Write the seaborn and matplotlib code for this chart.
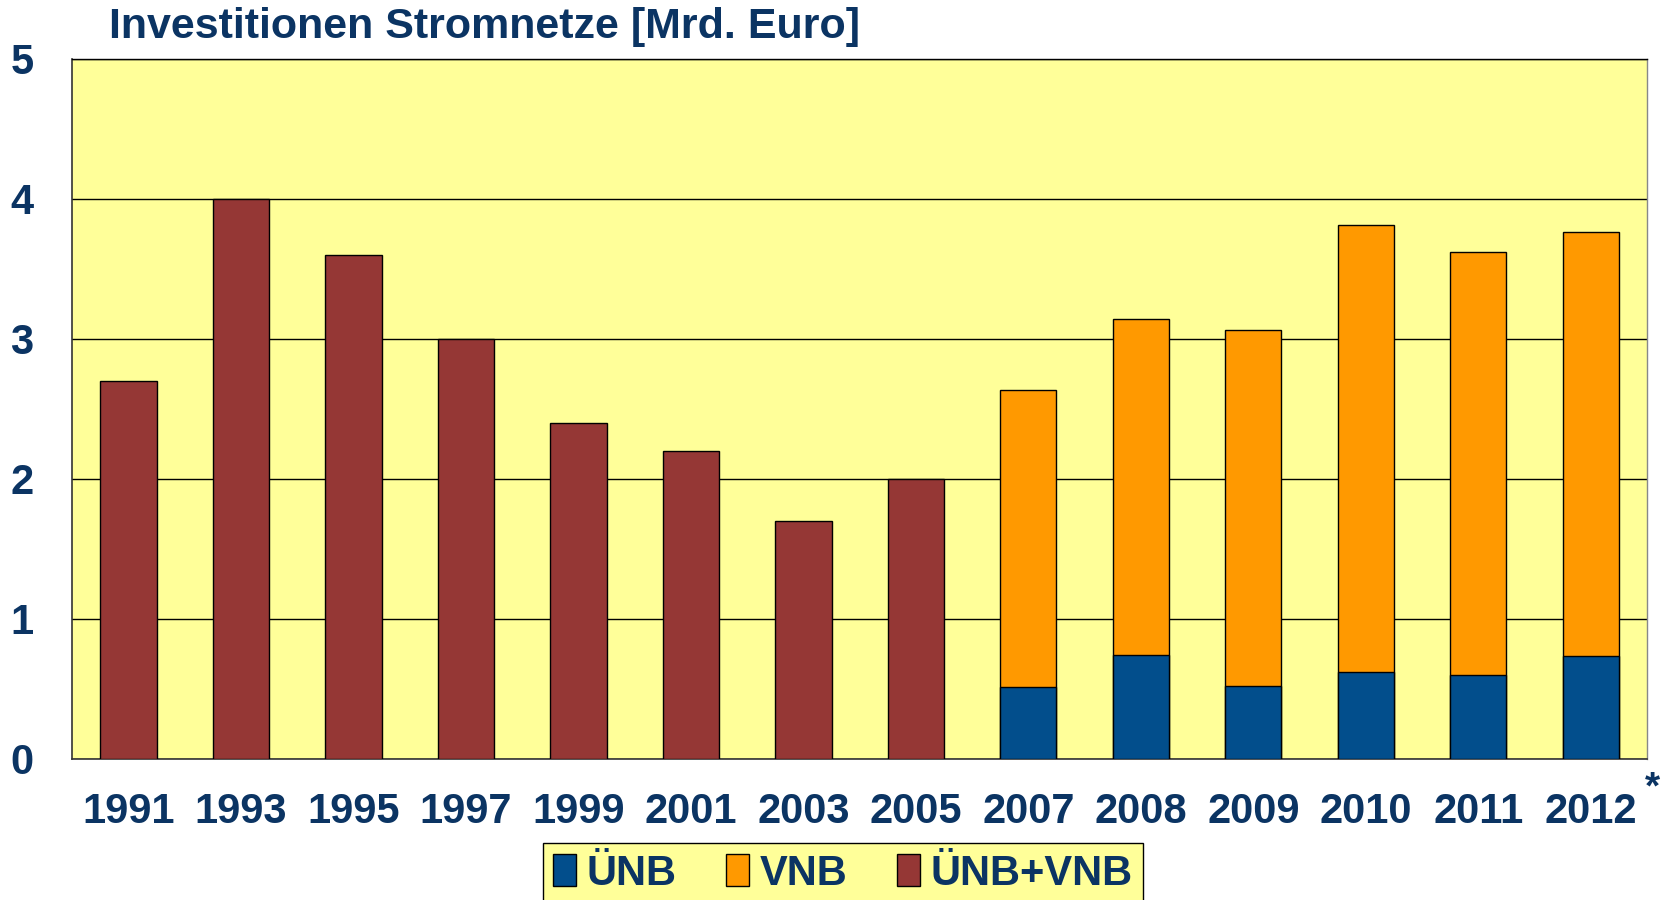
import pandas as pd
import numpy as np
import matplotlib
matplotlib.use("Agg")
import matplotlib.pyplot as plt
from matplotlib.patches import Patch
import seaborn as sns

# data (Mrd. Euro)
years = ["1991", "1993", "1995", "1997", "1999", "2001", "2003", "2005",
         "2007", "2008", "2009", "2010", "2011", "2012"]
old_years = ["1991", "1993", "1995", "1997", "1999", "2001", "2003", "2005"]
old_total = [2.7, 4.0, 3.6, 3.0, 2.4, 2.2, 1.7, 2.0]
new_years = ["2007", "2008", "2009", "2010", "2011", "2012"]
uenb = [0.51, 0.74, 0.52, 0.62, 0.60, 0.73]
vnb = [2.12, 2.40, 2.54, 3.19, 3.02, 3.03]
legend_labels = ["ÜNB", "VNB", "ÜNB+VNB"]

navy = "#0B3463"
c_uenb = "#024E8C"
c_vnb = "#FF9900"
c_both = "#953735"
bg = "#FFFF99"

df_old = pd.DataFrame({"year": old_years, "value": old_total})
df_new = pd.DataFrame({"year": new_years, "uenb": uenb, "vnb": vnb})
df_new["total"] = df_new["uenb"] + df_new["vnb"]

sns.set_style("white")
plt.rcParams["font.family"] = ["Liberation Sans", "DejaVu Sans"]
plt.rcParams["font.weight"] = "bold"

fig = plt.figure(figsize=(16.64, 9), dpi=100)
ax = fig.add_axes([0.0434, 0.157, 0.9464, 0.778])
ax.set_facecolor(bg)

bar_kw = dict(order=years, width=0.5, edgecolor="black", linewidth=1.0,
              saturation=1, ax=ax, zorder=3)
sns.barplot(data=df_old, x="year", y="value", color=c_both, **bar_kw)
sns.barplot(data=df_new, x="year", y="total", color=c_vnb, **bar_kw)
sns.barplot(data=df_new, x="year", y="uenb", color=c_uenb, **bar_kw)

ax.set_ylim(0, 5)
ax.set_xlim(-0.5, len(years) - 0.5)
ax.set_yticks(range(6))
ax.yaxis.grid(True, color="black", linewidth=1.0, zorder=1)
ax.set_axisbelow(True)
ax.set_xlabel("")
ax.set_ylabel("")

# x ticks sit on the category boundaries, labels in the middle
ax.set_xticks(np.arange(len(years)))
ax.set_xticklabels(years, fontsize=30, fontweight="bold", color=navy)
ax.set_xticks(np.arange(len(years) + 1) - 0.5, minor=True)
ax.tick_params(axis="x", which="major", length=0, pad=24)
ax.tick_params(axis="x", which="minor", length=10, width=1.2, color="#333333", direction="out")
ax.tick_params(axis="y", length=10, width=1.2, color="#333333", direction="out",
               labelsize=30, labelcolor=navy, pad=18)
for lab in ax.get_yticklabels():
    lab.set_fontweight("bold")

for side in ["left", "bottom"]:
    ax.spines[side].set_color("#333333")
    ax.spines[side].set_linewidth(1.2)
ax.spines["top"].set_color("black")
ax.spines["top"].set_linewidth(1.0)
ax.spines["right"].set_color("#888888")
ax.spines["right"].set_linewidth(1.0)

fig.text(0.0655, 0.970, "Investitionen Stromnetze [Mrd. Euro]", fontsize=31,
         fontweight="bold", color=navy, va="center", ha="left")
fig.text(0.993, 0.124, "*", fontsize=28, fontweight="bold", color=navy,
         ha="center", va="center")

handles = [Patch(facecolor=c, edgecolor="black", linewidth=1.0) for c in (c_uenb, c_vnb, c_both)]
leg = fig.legend(handles, legend_labels, loc="upper center", bbox_to_anchor=(0.5066, 0.063),
                 ncol=3, frameon=True, fancybox=False, framealpha=1, facecolor=bg,
                 edgecolor="black", fontsize=30, handlelength=0.55, handleheight=0.8,
                 handletextpad=0.25, columnspacing=1.2, borderpad=0.25, borderaxespad=0)
leg._legend_box.sep = 4
leg.get_frame().set_linewidth(1.0)
for t in leg.get_texts():
    t.set_color(navy)
    t.set_fontweight("bold")

fig.savefig("out.png", dpi=100, facecolor="white")
